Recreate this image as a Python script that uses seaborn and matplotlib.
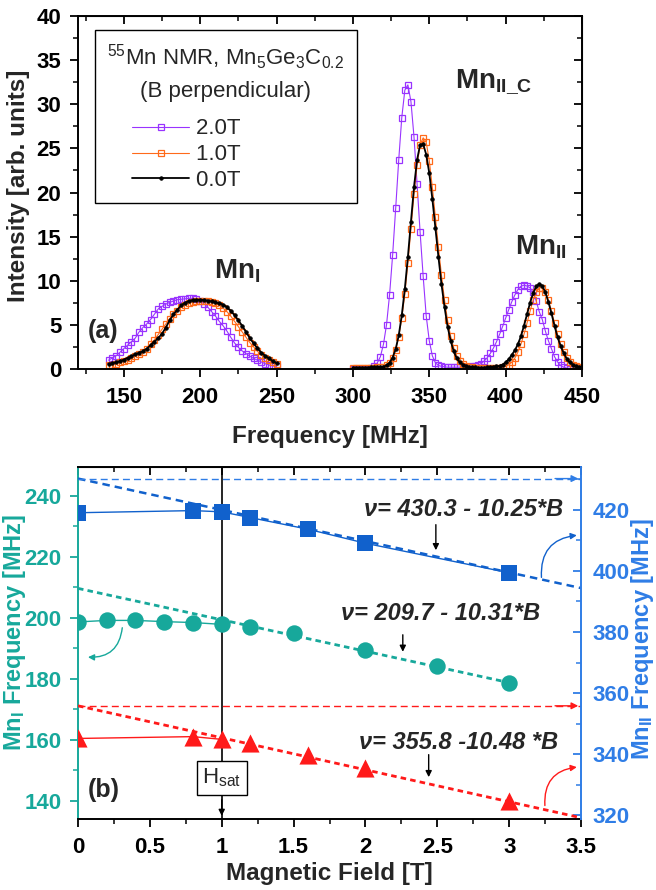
import numpy as np
import pandas as pd
import matplotlib
matplotlib.use('Agg')
import matplotlib.pyplot as plt
from matplotlib.ticker import MultipleLocator
import seaborn as sns

# ---------------- panel (a): 55Mn NMR spectra ----------------
freq_low = [140, 142.5, 145, 147.5, 150, 152.5, 155, 157.5, 160, 162.5,
            165, 167.5, 170, 172.5, 175, 177.5, 180, 182.5, 185, 187.5,
            190, 192.5, 195, 197.5, 200, 202.5, 205, 207.5, 210, 212.5,
            215, 217.5, 220, 222.5, 225, 227.5, 230, 232.5, 235, 237.5,
            240, 242.5, 245, 247.5, 250]
freq_high = [300, 302, 304, 306, 308, 310, 312, 314, 316, 318,
             320, 322, 324, 326, 328, 330, 332, 334, 336, 338,
             340, 342, 344, 346, 348, 350, 352, 354, 356, 358,
             360, 362, 364, 366, 368, 370, 372, 374, 376, 378,
             380, 382, 384, 386, 388, 390, 392, 394, 396, 398,
             400, 402, 404, 406, 408, 410, 412, 414, 416, 418,
             420, 422, 424, 426, 428, 430, 432, 434, 436, 438,
             440, 442, 444, 446, 448, 450]

int_2T_low = [1.0, 1.25, 1.5, 1.9, 2.3, 2.7, 3.1, 3.5, 4.2, 4.7,
              5.1, 5.6, 6.2, 6.8, 7.1, 7.35, 7.55, 7.7, 7.85, 7.9,
              7.95, 8.0, 8.0, 7.9, 7.7, 7.4, 7.0, 6.5, 6.0, 5.4,
              4.9, 4.3, 3.6, 2.95, 2.45, 2.05, 1.75, 1.45, 1.2, 1.0,
              0.8, 0.6, 0.45, 0.35, 0.3]
int_1T_low = [0.45, 0.5, 0.6, 0.75, 0.9, 1.05, 1.25, 1.45, 1.7, 1.95,
              2.3, 2.8, 3.3, 3.9, 4.5, 5.1, 5.7, 6.2, 6.6, 7.0,
              7.3, 7.5, 7.6, 7.65, 7.7, 7.7, 7.7, 7.6, 7.45, 7.2,
              6.9, 6.5, 6.0, 5.4, 4.8, 4.2, 3.6, 3.0, 2.5, 2.0,
              1.6, 1.3, 1.0, 0.8, 0.6]
int_0T_low = [0.55, 0.65, 0.75, 0.9, 1.05, 1.25, 1.45, 1.65, 1.85, 2.0,
              2.3, 2.7, 3.1, 3.5, 4.0, 4.7, 5.5, 6.2, 6.7, 7.2,
              7.5, 7.7, 7.8, 7.85, 7.85, 7.8, 7.75, 7.65, 7.55, 7.45,
              7.3, 7.0, 6.6, 6.1, 5.5, 4.9, 4.2, 3.5, 2.9, 2.35,
              1.85, 1.5, 1.2, 0.9, 0.65]

int_2T_high = [0.0, 0.0, 0.0, 0.0, 0.0, 0.05, 0.1, 0.3, 0.7, 1.4,
               2.8, 5.0, 8.4, 12.9, 18.2, 23.7, 28.5, 31.6, 32.2, 30.3,
               26.3, 21.0, 15.5, 10.5, 6.0, 3.2, 1.5, 0.7, 0.4, 0.3,
               0.25, 0.2, 0.2, 0.2, 0.2, 0.2, 0.2, 0.2, 0.25, 0.3,
               0.35, 0.45, 0.62, 0.91, 1.29, 1.77, 2.37, 3.08, 3.91, 4.81,
               5.76, 6.71, 7.61, 8.38, 8.99, 9.37, 9.5, 9.4, 9.2, 8.7,
               7.7, 6.5, 5.6, 4.3, 3.2, 2.3, 1.4, 0.8, 0.4, 0.2,
               0.1, 0.05, 0.03, 0.02, 0.0, 0.0]
int_1T_high = [0.1, 0.1, 0.1, 0.1, 0.1, 0.1, 0.12, 0.14, 0.17, 0.2,
               0.25, 0.4, 0.7, 1.25, 2.2, 3.65, 5.75, 8.5, 12.0, 15.9,
               19.8, 23.1, 25.4, 26.2, 25.7, 23.6, 20.6, 17.2, 13.8, 10.6,
               7.8, 5.5, 3.7, 2.4, 1.5, 0.9, 0.55, 0.35, 0.25, 0.18,
               0.15, 0.12, 0.1, 0.1, 0.1, 0.12, 0.13, 0.14, 0.15, 0.2,
               0.3, 0.47, 0.77, 1.23, 1.9, 2.8, 3.93, 5.2, 6.55, 7.8,
               8.7, 9.2, 9.2, 8.7, 7.8, 6.55, 5.2, 3.93, 2.8, 1.9,
               1.23, 0.77, 0.47, 0.3, 0.2, 0.15]
int_0T_high = [0.15, 0.15, 0.15, 0.15, 0.15, 0.16, 0.17, 0.18, 0.2, 0.22,
               0.26, 0.41, 0.7, 1.3, 2.25, 3.8, 6.1, 9.1, 12.7, 16.7,
               20.6, 23.7, 25.4, 25.5, 24.3, 22.2, 19.3, 16.0, 12.7, 9.6,
               7.0, 4.8, 3.2, 2.0, 1.2, 0.75, 0.5, 0.35, 0.25, 0.2,
               0.17, 0.15, 0.15, 0.16, 0.17, 0.2, 0.25, 0.3, 0.35, 0.5,
               0.75, 1.1, 1.6, 2.1, 2.8, 3.7, 4.9, 6.2, 7.5, 8.6,
               9.35, 9.65, 9.4, 8.7, 7.6, 6.3, 4.9, 3.6, 2.6, 1.8,
               1.15, 0.75, 0.5, 0.33, 0.24, 0.2]

# ---------------- panel (b): line positions vs field ----------------
field_I = [0, 0.2, 0.4, 0.6, 0.8, 1.0, 1.2, 1.5, 2.0, 2.5, 3.0]
freq_I = [198.7, 199.2, 199.2, 198.8, 198.5, 197.9, 197.1, 195.0, 189.6, 184.1, 178.8]
field_II = [0, 0.8, 1.0, 1.2, 1.6, 2.0, 3.0]
freq_II = [419.1, 419.8, 419.4, 417.5, 413.7, 409.1, 399.4]
field_IIC = [0, 0.8, 1.0, 1.2, 1.6, 2.0, 3.0]
freq_IIC = [345.1, 345.7, 344.8, 343.5, 339.7, 335.3, 324.6]

fit_field_I = [0.0, 3.0]
fit_I = [209.7, 178.8]
fit_field = [0.0, 3.5]
fit_II = [430.3, 394.4]
fit_IIC = [355.8, 319.1]
zero_II = 430.3
zero_IIC = 355.8
h_sat = 1.0

PURPLE = '#9933ff'
ORANGE = '#ff6a1a'
TEAL = '#17a89b'
BLUE = '#1161cc'
BLUE_AX = '#2f7de6'
RED = '#ff1a1a'

sns.set_style('ticks')
plt.rcParams['font.family'] = ['Liberation Sans', 'DejaVu Sans']
plt.rcParams['font.weight'] = 'bold'
plt.rcParams['axes.labelweight'] = 'bold'
plt.rcParams['mathtext.fontset'] = 'custom'
plt.rcParams['mathtext.rm'] = 'Liberation Sans:weight=normal'
plt.rcParams['mathtext.it'] = 'Liberation Sans:italic:weight=normal'
plt.rcParams['mathtext.bf'] = 'Liberation Sans:bold'

fig = plt.figure(figsize=(6.56, 8.9), dpi=100)
ax1 = fig.add_axes([0.1189, 0.5854, 0.7683, 0.3966])
ax2 = fig.add_axes([0.1189, 0.0798, 0.7668, 0.3955])


def style_ticks(ax, axis='both', color='k', direction='out', pad=6):
    ax.tick_params(axis=axis, which='major', length=6, width=1.3, labelsize=16,
                   colors=color, direction=direction, pad=pad)
    ax.tick_params(axis=axis, which='minor', length=3.5, width=1.1,
                   colors=color, direction=direction)


# ---- (a) spectra ----
series = [('2.0T', PURPLE, 's', int_2T_low, int_2T_high),
          ('1.0T', ORANGE, 's', int_1T_low, int_1T_high),
          ('0.0T', 'k', 'o', int_0T_low, int_0T_high)]
handles = []
for label, color, mk, lo, hi in series:
    if mk == 's':
        kw = dict(marker='s', markersize=4.5, markerfacecolor='none',
                  markeredgecolor=color, markeredgewidth=0.9, lw=0.8)
    else:
        kw = dict(marker='o', markersize=2.6, markerfacecolor='k',
                  markeredgecolor='k', markeredgewidth=0.5, lw=1.3)
    for fx, fy in ((freq_low, lo), (freq_high, hi)):
        sns.lineplot(x=fx, y=fy, ax=ax1, color=color, estimator=None, sort=False, **kw)
    handles.append(ax1.lines[-1])

ax1.set_xlim(120, 450)
ax1.set_ylim(0, 40)
ax1.xaxis.set_major_locator(MultipleLocator(50))
ax1.xaxis.set_minor_locator(MultipleLocator(25))
ax1.yaxis.set_major_locator(MultipleLocator(5))
ax1.yaxis.set_minor_locator(MultipleLocator(2.5))
style_ticks(ax1, axis='x', pad=7)
style_ticks(ax1, axis='y', pad=6)
for sp in ax1.spines.values():
    sp.set_linewidth(1.4)
    sp.set_color('k')
top1 = ax1.secondary_xaxis('top')
top1.xaxis.set_major_locator(MultipleLocator(50))
top1.xaxis.set_minor_locator(MultipleLocator(25))
style_ticks(top1, direction='in')
top1.tick_params(labeltop=False)
right1 = ax1.secondary_yaxis('right')
right1.yaxis.set_major_locator(MultipleLocator(5))
right1.yaxis.set_minor_locator(MultipleLocator(2.5))
style_ticks(right1, direction='in')
right1.tick_params(labelright=False)

ax1.set_xlabel('Frequency [MHz]', fontsize=17.5, labelpad=12)
ax1.set_ylabel('Intensity [arb. units]', fontsize=17.5)
ax1.yaxis.set_label_coords(-0.095, 0.52)

ax1.text(209.2, 10.3, r'Mn$_\mathbf{I}$', fontsize=20, ha='left', va='baseline')
ax1.text(367.1, 31.9, r'Mn$_\mathbf{II\_C}$', fontsize=20, ha='left', va='baseline')
ax1.text(405.9, 13.0, r'Mn$_\mathbf{II}$', fontsize=20, ha='left', va='baseline')
ax1.text(126.3, 4.3, '(a)', fontsize=18, ha='left', va='center')

pad_sp = ' ' * 13
leg = ax1.legend(handles, ['2.0T' + pad_sp, '1.0T' + pad_sp, '0.0T' + pad_sp],
                 loc='upper left', bbox_to_anchor=(0.034, 0.96), borderaxespad=0,
                 title='$^{55}$Mn NMR, Mn$_5$Ge$_3$C$_{0.2}$\n(B perpendicular)',
                 prop={'weight': 'normal', 'size': 16},
                 title_fontproperties={'weight': 'normal', 'size': 16},
                 fancybox=False, edgecolor='k', framealpha=1,
                 handlelength=2.6, numpoints=1, labelspacing=0.22,
                 borderpad=0.55, handletextpad=0.3)
leg.get_frame().set_linewidth(1.0)
leg.get_title().set_multialignment('center')
leg.get_title().set_linespacing(1.6)
leg._legend_box.sep = 11.5

# ---- (b) line positions ----
ax3 = ax2.twinx()

sns.lineplot(x=field_I[:6], y=freq_I[:6], ax=ax2, color=TEAL, lw=1, estimator=None)
sns.lineplot(x=fit_field_I, y=fit_I, ax=ax2, color=TEAL, lw=2, estimator=None,
             linestyle=(0, (2, 1.5)))
sns.scatterplot(x=field_I, y=freq_I, ax=ax2, color=TEAL, marker='o', s=140,
                edgecolor=TEAL, linewidth=0, zorder=4)

sns.lineplot(x=field_II, y=freq_II, ax=ax3, color=BLUE, lw=1, estimator=None)
sns.lineplot(x=fit_field, y=fit_II, ax=ax3, color=BLUE, lw=1.8, estimator=None,
             linestyle=(0, (3, 2)))
sns.scatterplot(x=field_II, y=freq_II, ax=ax3, color=BLUE, marker='s', s=120,
                edgecolor=BLUE, linewidth=0, zorder=4)

sns.lineplot(x=field_IIC[:3], y=freq_IIC[:3], ax=ax3, color=RED, lw=1, estimator=None)
sns.lineplot(x=fit_field, y=fit_IIC, ax=ax3, color=RED, lw=2, estimator=None,
             linestyle=(0, (2, 1.5)))
sns.scatterplot(x=field_IIC, y=freq_IIC, ax=ax3, color=RED, marker='^', s=170,
                edgecolor=RED, linewidth=0, zorder=4)

# zero-field extrapolations carried to the right axis
ax3.axhline(zero_II, color=BLUE_AX, lw=1, linestyle=(0, (5, 3)))
ax3.axhline(zero_IIC, color=RED, lw=1, linestyle=(0, (5, 3)))
for yv, c in ((zero_II, BLUE_AX), (zero_IIC, RED)):
    ax3.annotate('', xy=(3.5, yv), xytext=(3.3, yv),
                 arrowprops=dict(arrowstyle='-|>', color=c, lw=1, mutation_scale=10))

ax2.axvline(h_sat, color='k', lw=1.2, zorder=1)
ax2.text(h_sat, 147.5, r'H$_\mathregular{sat}$', fontsize=16, fontweight='normal',
         ha='center', va='center', zorder=6,
         bbox=dict(boxstyle='square,pad=0.25', fc='white', ec='k', lw=1))
ax2.annotate('', xy=(h_sat, 134.2), xytext=(h_sat, 141.3),
             arrowprops=dict(arrowstyle='-|>', color='k', lw=1, mutation_scale=9))

ax2.set_xlim(0, 3.5)
ax2.set_ylim(134.1, 249.5)
ax3.set_ylim(318.7, 434.1)
ax2.xaxis.set_major_locator(MultipleLocator(0.5))
ax2.xaxis.set_minor_locator(MultipleLocator(0.25))
ax2.yaxis.set_major_locator(MultipleLocator(20))
ax2.yaxis.set_minor_locator(MultipleLocator(10))
ax3.yaxis.set_major_locator(MultipleLocator(20))
ax3.yaxis.set_minor_locator(MultipleLocator(10))
ax2.set_xticks([0, 0.5, 1, 1.5, 2, 2.5, 3, 3.5])
ax2.set_xticklabels(['0', '0.5', '1', '1.5', '2', '2.5', '3', '3.5'])

style_ticks(ax2, axis='x', pad=7)
style_ticks(ax2, axis='y', color=TEAL, pad=6)
style_ticks(ax3, axis='y', color=BLUE_AX, direction='in', pad=8)
top2 = ax2.secondary_xaxis('top')
top2.xaxis.set_major_locator(MultipleLocator(0.5))
top2.xaxis.set_minor_locator(MultipleLocator(0.25))
style_ticks(top2, direction='in')
top2.tick_params(labeltop=False)

for sp in ('top', 'bottom'):
    ax2.spines[sp].set_color('k')
    ax2.spines[sp].set_linewidth(1.4)
ax2.spines['left'].set_color(TEAL)
ax2.spines['left'].set_linewidth(1.4)
ax2.spines['right'].set_visible(False)
for sp in ('top', 'bottom', 'left'):
    ax3.spines[sp].set_visible(False)
ax3.spines['right'].set_visible(True)
ax3.spines['right'].set_color(BLUE_AX)
ax3.spines['right'].set_linewidth(1.4)

ax2.set_xlabel('Magnetic Field [T]', fontsize=17.5, labelpad=3)
ax2.set_ylabel(r'Mn$_\mathbf{I}$ Frequency [MHz]', fontsize=17, color=TEAL)
ax2.yaxis.set_label_coords(-0.1, 0.53)
ax3.set_ylabel(r'Mn$_\mathbf{II}$ Frequency [MHz]', fontsize=17, color=BLUE_AX)
ax3.yaxis.set_label_coords(1.095, 0.51)

# fit equations with pointer arrows
eq_kw = dict(fontsize=17, fontweight='bold', fontstyle='italic', ha='right', va='center')
ax2.text(3.375, 235.4, 'ν= 430.3 - 10.25*B', **eq_kw)
ax2.text(3.215, 201.6, 'ν= 209.7 - 10.31*B', **eq_kw)
ax2.text(3.34, 159.3, 'ν= 355.8 -10.48 *B', **eq_kw)
for xb, y0, y1 in ((2.49, 231.5, 221.3), (2.26, 195.4, 188.0), (2.44, 156.1, 146.9)):
    ax2.annotate('', xy=(xb, y1), xytext=(xb, y0),
                 arrowprops=dict(arrowstyle='-|>', color='k', lw=1, mutation_scale=9))

# curved arrows pointing to the relevant axis
ax2.annotate('', xy=(0.05, 187.2), xytext=(0.31, 197.7),
             arrowprops=dict(arrowstyle='-|>', color=TEAL, lw=1, mutation_scale=9,
                             connectionstyle='arc3,rad=-0.5'))
ax3.annotate('', xy=(3.49, 411.8), xytext=(3.226, 397.0),
             arrowprops=dict(arrowstyle='-|>', color=BLUE, lw=1, mutation_scale=9,
                             connectionstyle='arc3,rad=-0.5'))
ax3.annotate('', xy=(3.49, 335.8), xytext=(3.25, 322.2),
             arrowprops=dict(arrowstyle='-|>', color=RED, lw=1, mutation_scale=9,
                             connectionstyle='arc3,rad=-0.5'))

ax2.text(0.07, 143.6, '(b)', fontsize=18, ha='left', va='center')

fig.savefig('out.png', dpi=100)
